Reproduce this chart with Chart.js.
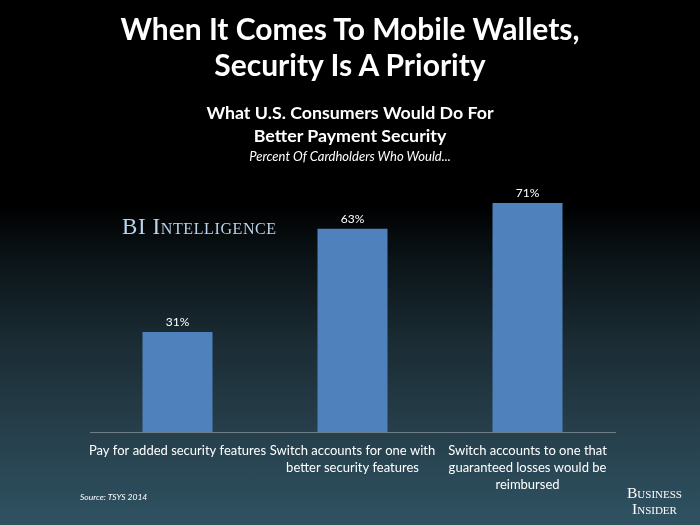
<!DOCTYPE html>
<html>
<head>
<meta charset="utf-8">
<script src="https://cdn.jsdelivr.net/npm/chart.js@4"></script>
<style>
html,body{margin:0;padding:0;}
body{width:700px;height:525px;position:relative;overflow:hidden;
background:linear-gradient(to bottom,#000 0px,#000 205px,#0b1418 260px,#1a2b33 340px,#263f4b 430px,#2f5262 525px);
font-family:Lato,"Open Sans",sans-serif;color:#fff;}
canvas{position:absolute;left:0;top:0;}
.t{position:absolute;left:0;width:700px;text-align:center;white-space:nowrap;}
#title{top:10px;font-size:30px;font-weight:bold;line-height:36px;}
#sub{top:101px;font-size:17.8px;font-weight:bold;line-height:23px;}
#sub2{top:148px;font-size:13px;font-style:italic;}
#bi{position:absolute;left:122px;top:214px;font-family:"Liberation Serif","DejaVu Serif",serif;font-variant:small-caps;font-size:23px;color:#bcd3ea;letter-spacing:0.6px;}
#src{position:absolute;left:80px;top:492px;font-size:8.5px;font-style:italic;}
#logo{position:absolute;left:627px;top:485px;font-family:"Liberation Serif",serif;font-variant:small-caps;font-size:15.5px;line-height:16px;text-align:center;color:#fff;}
</style>
</head>
<body>
<canvas id="c" width="700" height="525"></canvas>
<div class="t" id="title">When It Comes To Mobile Wallets,<br>Security Is A Priority</div>
<div class="t" id="sub">What U.S. Consumers Would Do For<br>Better Payment Security</div>
<div class="t" id="sub2">Percent Of Cardholders Who Would...</div>
<div id="bi">BI Intelligence</div>
<div id="src">Source: TSYS 2014</div>
<div id="logo">Business<br>Insider</div>
<script>
const categories = [
  ["Pay for added security features"],
  ["Switch accounts for one with", "better security features"],
  ["Switch accounts to one that", "guaranteed losses would be", "reimbursed"]
];
const values = [31, 63, 71];

const labelPlugin = {
  id: 'valueLabels',
  afterDatasetsDraw(chart) {
    const ctx = chart.ctx;
    const meta = chart.getDatasetMeta(0);
    ctx.save();
    ctx.fillStyle = '#ffffff';
    ctx.font = '12px Lato, "Open Sans", sans-serif';
    ctx.textAlign = 'center';
    ctx.textBaseline = 'bottom';
    meta.data.forEach((bar, i) => {
      ctx.fillText(values[i] + '%', bar.x, bar.y - 4);
    });
    ctx.restore();
  }
};

new Chart(document.getElementById('c'), {
  type: 'bar',
  data: {
    labels: categories,
    datasets: [{
      data: values,
      backgroundColor: '#4f81bd',
      categoryPercentage: 0.4,
      barPercentage: 1.0
    }]
  },
  options: {
    responsive: false,
    animation: false,
    layout: { padding: { left: 90, right: 85, top: 174, bottom: 0 } },
    plugins: { legend: { display: false }, tooltip: { enabled: false } },
    scales: {
      y: { display: false, min: 0, max: 80 },
      x: {
        grid: { display: false, drawTicks: false },
        border: { display: true, color: '#6f7f88', width: 1 },
        ticks: {
          color: '#ffffff',
          font: { family: 'Lato, "Open Sans", sans-serif', size: 13, lineHeight: 1.32 },
          padding: 10,
          maxRotation: 0,
          autoSkip: false
        },
        afterFit(axis) { axis.height = 93; }
      }
    }
  },
  plugins: [labelPlugin]
});
</script>
</body>
</html>
